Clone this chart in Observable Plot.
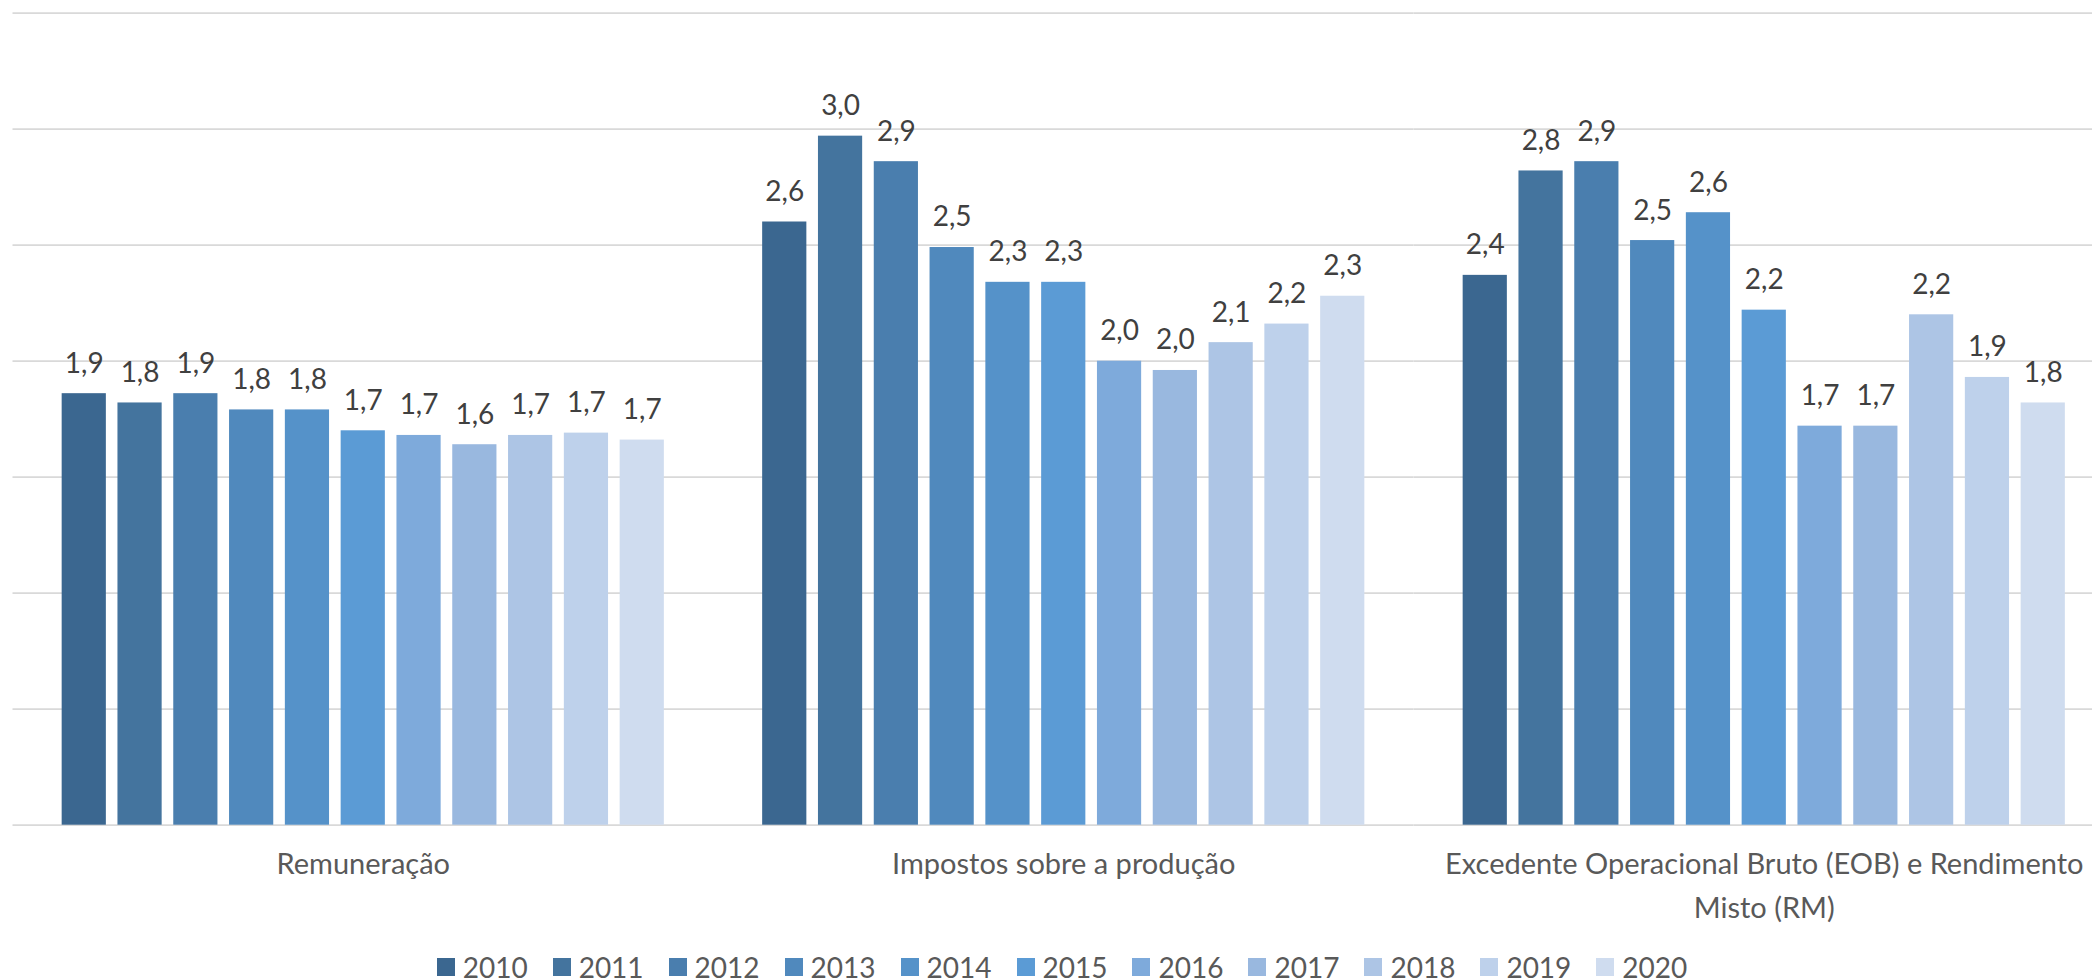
<!DOCTYPE html>
<html>
<head>
<meta charset="utf-8">
<script src="https://cdn.jsdelivr.net/npm/d3@7"></script>
<script src="https://cdn.jsdelivr.net/npm/@observablehq/plot@0.6"></script>
<style>
  html, body { margin: 0; padding: 0; background: #fff; overflow: hidden; }
  #chart svg { display: block; }
  #legend { height: 40px; padding-left: 57px; box-sizing: border-box; }
  #legend > div {
    display: flex !important; justify-content: center; align-items: center;
    min-height: 0 !important; height: 34px; padding-top: 10px; margin: 0 !important;
    font-family: Lato, sans-serif !important; font-size: 28px !important; color: #595959 !important;
  }
  #legend span { margin-right: 25px !important; display: inline-flex; align-items: center; }
  #legend span > svg { margin-right: 8px !important; }
</style>
</head>
<body>
<div id="chart"></div>
<div id="legend"></div>
<script>
// ---- data ----
const categories = [
  "Remuneração",
  "Impostos sobre a produção",
  "Excedente Operacional Bruto (EOB) e Rendimento Misto (RM)"
];
const years = ["2010","2011","2012","2013","2014","2015","2016","2017","2018","2019","2020"];
const remuneracao = [1.86, 1.82, 1.86, 1.79, 1.79, 1.70, 1.68, 1.64, 1.68, 1.69, 1.66];
const impostos    = [2.60, 2.97, 2.86, 2.49, 2.34, 2.34, 2.00, 1.96, 2.08, 2.16, 2.28];
const excedente   = [2.37, 2.82, 2.86, 2.52, 2.64, 2.22, 1.72, 1.72, 2.20, 1.93, 1.82];
const yearColors  = ["#3b6790","#44749e","#4a7eae","#5089bd","#5592c9","#5b9bd5",
                     "#7eaadb","#99b8df","#adc5e5","#bed1eb","#cfdcef"];
const yTicks = [0, 0.5, 1, 1.5, 2, 2.5, 3, 3.5];

const series = [remuneracao, impostos, excedente];
const data = categories.flatMap((c, i) =>
  series[i].map((v, j) => ({category: c, year: years[j], value: v})));

const locale = d3.formatLocale({decimal: ",", thousands: ".", grouping: [3], currency: ["", ""]});
const fmt = locale.format(".1f");

function wrap(s, max = 47) {
  const words = s.split(" ");
  const lines = [];
  let cur = "";
  for (const w of words) {
    if (cur && (cur + " " + w).length > max) { lines.push(cur); cur = w; }
    else cur = cur ? cur + " " + w : w;
  }
  if (cur) lines.push(cur);
  return lines.join("\n");
}

const W = 2092, H = 940, baseY = 824.7;

const plot = Plot.plot({
  width: W,
  height: H,
  marginLeft: 12.5,
  marginRight: -22,
  marginTop: 12.7,
  marginBottom: H - baseY,
  style: {fontFamily: "Lato, sans-serif", background: "white", overflow: "hidden"},
  fx: {domain: categories, padding: 0, round: false, axis: null},
  x: {domain: years, paddingInner: 0.208, paddingOuter: 0.881, round: false, axis: null},
  y: {domain: [0, 3.5], axis: null},
  color: {domain: years, range: yearColors},
  marks: [
    Plot.ruleY(yTicks, {stroke: "#d9d9d9", strokeWidth: 1.75}),
    Plot.barY(data, {fx: "category", x: "year", y: "value", fill: "year"}),
    Plot.text(data, {
      fx: "category", x: "year", y: "value", text: d => fmt(d.value),
      dy: -30, fontSize: 28, fill: "#404040"
    }),
    Plot.text(categories, {
      fx: d => d, text: d => wrap(d), frameAnchor: "bottom", lineAnchor: "top",
      dy: 18, fontSize: 29, fill: "#595959", lineHeight: 1.5
    })
  ]
});
document.getElementById("chart").appendChild(plot);

const legend = plot.legend("color", {legend: "swatches", swatchSize: 18, className: "lg"});
document.getElementById("legend").appendChild(legend);
</script>
</body>
</html>
